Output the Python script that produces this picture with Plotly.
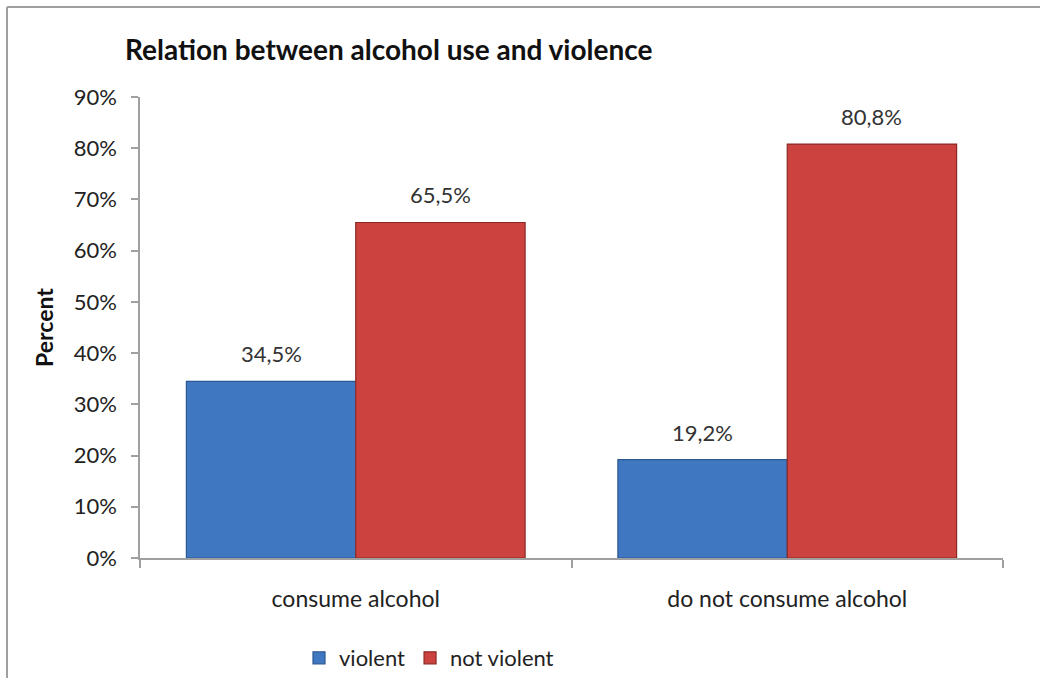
import plotly.graph_objects as go

categories = ["consume alcohol", "do not consume alcohol"]
violent = [34.5, 19.2]
not_violent = [65.5, 80.8]
series_names = ["violent", "not violent"]
y_ticks = [0, 10, 20, 30, 40, 50, 60, 70, 80, 90]
y_tick_labels = [f"{v}%" for v in y_ticks]

FONT = "Lato, 'Open Sans', sans-serif"
W, H = 1040, 678
ML, MR, MT, MB = 140, 37, 97, 120
pw = W - ML - MR
ph = H - MT - MB
BARGAP = 0.215

fig = go.Figure()
fig.add_trace(go.Bar(
    x=categories, y=violent, name=series_names[0],
    marker=dict(color="#3f78c0", line=dict(color="#2c5893", width=1.2)),
))
fig.add_trace(go.Bar(
    x=categories, y=not_violent, name=series_names[1],
    marker=dict(color="#cc423f", line=dict(color="#8c2927", width=1.2)),
))

# value labels placed on bar centres (categorical positions +/- half a bar)
half = (1 - BARGAP) / 4
annotations = []
for k, (a, b) in enumerate(zip(violent, not_violent)):
    for off, v in ((-half, a), (half, b)):
        annotations.append(dict(
            x=k + off, y=v, xref="x", yref="y",
            text=f"{v:.1f}%".replace(".", ","), showarrow=False,
            yanchor="bottom", yshift=12,
            font=dict(size=22, family=FONT, color="#333333")))

fig.update_layout(
    width=W, height=H,
    margin=dict(l=ML, r=MR, t=MT, b=MB, autoexpand=False),
    paper_bgcolor="white", plot_bgcolor="white",
    barmode="group", bargap=BARGAP, bargroupgap=0,
    font=dict(family=FONT, color="#222222"),
    title=dict(text="<b>Relation between alcohol use and violence</b>",
               x=125 / W, xref="container", xanchor="left",
               y=1 - 50 / H, yref="container", yanchor="middle",
               font=dict(size=28, family=FONT, color="#111111")),
    showlegend=True,
    legend=dict(orientation="h", x=(299 - ML) / pw, xanchor="left",
                y=-(658 - (H - MB)) / ph, yanchor="middle",
                font=dict(size=22, family=FONT, color="#222222"),
                itemwidth=30, traceorder="normal"),
    xaxis=dict(showline=True, linecolor="#a0a0a0", linewidth=1.5,
               ticks="outside", tickson="boundaries", ticklen=8,
               tickcolor="#a0a0a0", tickwidth=1.5,
               ticklabelstandoff=20,
               tickfont=dict(size=23, family=FONT, color="#222222"),
               showgrid=False, zeroline=False),
    yaxis=dict(range=[0, 90], tickmode="array", tickvals=y_ticks,
               ticktext=y_tick_labels,
               showline=True, linecolor="#a0a0a0", linewidth=1.5,
               ticks="outside", ticklen=7, tickcolor="#a0a0a0", tickwidth=1.5,
               ticklabelstandoff=10,
               tickfont=dict(size=22, family=FONT, color="#222222"),
               showgrid=False, zeroline=False,
               title=dict(text="<b>Percent</b>", standoff=14,
                          font=dict(size=23, family=FONT, color="#111111"))),
    annotations=annotations,
    shapes=[
        dict(type="line", xref="paper", yref="paper",
             x0=(7 - ML) / pw, x1=(W + 20 - ML) / pw,
             y0=1 + (MT - 7) / ph, y1=1 + (MT - 7) / ph,
             line=dict(color="#a0a0a0", width=2)),
        dict(type="line", xref="paper", yref="paper",
             x0=(7 - ML) / pw, x1=(7 - ML) / pw,
             y0=1 + (MT - 7) / ph, y1=-(MB + 20) / ph,
             line=dict(color="#a0a0a0", width=2)),
    ],
)

fig.write_html(
    "out.html",
    config={"displayModeBar": False},
    post_script="document.body.style.margin='0';"
                "document.body.style.overflow='hidden';",
)
